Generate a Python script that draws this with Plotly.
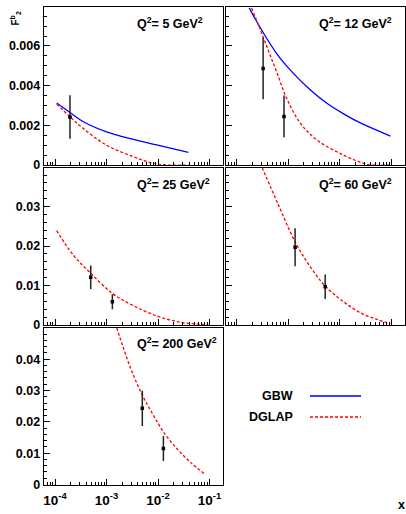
import plotly.graph_objects as go

W, H = 406, 514          # reference canvas (pixel coordinates used below)
FIG_H = 521              # figure height (compensates a small vertical squeeze seen in the render)

# ---------------- data ----------------
panel_titles = ["Q<sup>2</sup>= 5 GeV<sup>2</sup>", "Q<sup>2</sup>= 12 GeV<sup>2</sup>",
                "Q<sup>2</sup>= 25 GeV<sup>2</sup>", "Q<sup>2</sup>= 60 GeV<sup>2</sup>",
                "Q<sup>2</sup>= 200 GeV<sup>2</sup>"]
legend_labels = ["GBW", "DGLAP"]

# GBW curves
gbw_q5_x = [1.076e-4, 1.954e-4, 3.548e-4, 1.0e-3, 3.319e-3, 9.419e-3, 3.88e-2]
gbw_q5_y = [0.00313, 0.00265, 0.00218, 0.00167, 0.00129, 0.00101, 0.00064]
gbw_q12_x = [1.738e-4, 2.805e-4, 5.94e-4, 1.253e-3, 2.649e-3, 5.598e-3, 1.180e-2, 2.500e-2, 9.594e-2]
gbw_q12_y = [0.00792, 0.00695, 0.00562, 0.00462, 0.00379, 0.00311, 0.00258, 0.00212, 0.00146]

# DGLAP curves
dglap_q5_x = [1.076e-4, 1.954e-4, 3.548e-4, 1.0e-3, 3.319e-3, 8.11e-3, 1.476e-2, 3.88e-2]
dglap_q5_y = [0.00308, 0.00243, 0.00184, 0.00100, 0.00042, 0.00008, 0.0, 0.0]
dglap_q12_x = [1.932e-4, 2.805e-4, 4.074e-4, 5.94e-4, 9.31e-4, 1.690e-3, 3.573e-3, 1.180e-2, 2.897e-2, 3.917e-2, 9.594e-2]
dglap_q12_y = [0.00792, 0.00687, 0.00578, 0.00469, 0.00335, 0.00213, 0.00126, 0.00050, 0.00008, 0.0, 0.0]
dglap_q25_x = [1.076e-4, 2.270e-4, 4.932e-4, 1.297e-3, 3.319e-3, 9.419e-3, 2.673e-2, 6.546e-2, 9.484e-2]
dglap_q25_y = [0.0239, 0.0177, 0.0131, 0.0080, 0.0049, 0.0023, 0.0007, 0.00017, 0.0]
dglap_q60_x = [3.112e-4, 6.383e-4, 1.352e-3, 2.649e-3, 5.188e-3, 1.180e-2, 2.500e-2, 5.284e-2, 9.594e-2]
dglap_q60_y = [0.0399, 0.0305, 0.0211, 0.0148, 0.0099, 0.0059, 0.0031, 0.0014, 0.0004]
dglap_q200_x = [1.578e-3, 2.858e-3, 4.955e-3, 8.110e-3, 1.268e-2, 2.307e-2, 4.178e-2, 8.185e-2]
dglap_q200_y = [0.0500, 0.0376, 0.0285, 0.0221, 0.0168, 0.0115, 0.0072, 0.0032]

# measured points
pts_q5_x, pts_q5_y, pts_q5_e = [1.95e-4], [0.00242], [0.0011]
pts_q12_x, pts_q12_y, pts_q12_e = [3.24e-4, 8.24e-4], [0.00487, 0.00245], [0.00155, 0.00105]
pts_q25_x, pts_q25_y, pts_q25_e = [4.93e-4, 1.297e-3], [0.0121, 0.0059], [0.0030, 0.0019]
pts_q60_x, pts_q60_y, pts_q60_e = [1.352e-3, 5.19e-3], [0.0197, 0.0097], [0.0048, 0.0031]
pts_q200_x, pts_q200_y, pts_q200_e = [4.95e-3, 1.27e-2], [0.0243, 0.0115], [0.0056, 0.0040]

# axis ticks
x_tickvals = [1e-4, 1e-3, 1e-2, 1e-1]
x_ticktext = ["10<sup>-4</sup>", "10<sup>-3</sup>", "10<sup>-2</sup>", "10<sup>-1</sup>"]
x_minor = [k * 10.0 ** d for d in (-5, -4, -3, -2, -1) for k in range(2, 10)]
row_yticks = [[0, 0.002, 0.004, 0.006], [0, 0.01, 0.02, 0.03], [0, 0.01, 0.02, 0.03, 0.04]]
row_yticktext = [["0", "0.002", "0.004", "0.006"], ["0", "0.01", "0.02", "0.03"],
                 ["0", "0.01", "0.02", "0.03", "0.04"]]
row_yminor = [0.0005, 0.002, 0.002]
row_yrange = [[0, 0.00795], [0, 0.0398], [0, 0.0501]]

# ---------------- layout geometry (reference pixels) ----------------
col_px = [(43.7, 222.7), (225.5, 404.5)]
row_px = [(7.3, 165.0), (168.0, 325.0), (327.5, 484.5)]
xrange_log = [-4.22, -0.745]

def px2x(p):
    return p / W

def px2y(p):
    return 1 - p / H

BLUE = "#0000ff"
RED = "#ff0000"
FONT = "Liberation Sans"

fig = go.Figure()

curves = {
    0: [(gbw_q5_x, gbw_q5_y, "gbw"), (dglap_q5_x, dglap_q5_y, "dglap")],
    1: [(gbw_q12_x, gbw_q12_y, "gbw"), (dglap_q12_x, dglap_q12_y, "dglap")],
    2: [(dglap_q25_x, dglap_q25_y, "dglap")],
    3: [(dglap_q60_x, dglap_q60_y, "dglap")],
    4: [(dglap_q200_x, dglap_q200_y, "dglap")],
    5: [],
}
points = {
    0: (pts_q5_x, pts_q5_y, pts_q5_e),
    1: (pts_q12_x, pts_q12_y, pts_q12_e),
    2: (pts_q25_x, pts_q25_y, pts_q25_e),
    3: (pts_q60_x, pts_q60_y, pts_q60_e),
    4: (pts_q200_x, pts_q200_y, pts_q200_e),
}

annotations = []
shapes = []
layout_axes = {}

for i in range(6):
    r, c = divmod(i, 2)
    xs = "x" if i == 0 else f"x{i+1}"
    ys = "y" if i == 0 else f"y{i+1}"
    for (cx, cy, kind) in curves[i]:
        if kind == "gbw":
            line = dict(color=BLUE, width=1.3, shape="spline", smoothing=1.0)
        else:
            line = dict(color=RED, width=1.3, dash="3px,2px", shape="spline", smoothing=1.0)
        fig.add_trace(go.Scatter(x=cx, y=cy, mode="lines", line=line, xaxis=xs, yaxis=ys,
                                 showlegend=False, hoverinfo="skip"))
    if i in points:
        px_, py_, pe_ = points[i]
        fig.add_trace(go.Scatter(x=px_, y=py_, mode="markers", xaxis=xs, yaxis=ys,
                                 marker=dict(symbol="square", size=3.5, color="black"),
                                 error_y=dict(type="data", array=pe_, visible=True,
                                              color="#222222", thickness=1.5, width=0),
                                 showlegend=False, hoverinfo="skip"))

    xa = dict(type="log", range=xrange_log,
              domain=[px2x(col_px[c][0]), px2x(col_px[c][1])],
              anchor=ys, showgrid=False, zeroline=False,
              showline=True, linecolor="black", linewidth=1, mirror=True,
              ticks="inside", ticklen=6, tickwidth=1, tickcolor="black",
              tickmode="array", tickvals=x_tickvals, ticktext=x_ticktext,
              showticklabels=(r == 2), ticklabelstandoff=3,
              tickfont=dict(family=FONT, size=13.5, color="black", weight="bold"),
              minor=dict(ticks="inside", ticklen=3, tickwidth=1, tickcolor="black",
                         tickmode="array", tickvals=x_minor, showgrid=False))
    ya = dict(range=row_yrange[r],
              domain=[px2y(row_px[r][1]), px2y(row_px[r][0])],
              anchor=xs, showgrid=False, zeroline=False,
              showline=True, linecolor="black", linewidth=1, mirror=True,
              ticks="inside", ticklen=6, tickwidth=1, tickcolor="black",
              tickmode="array", tickvals=row_yticks[r], ticktext=row_yticktext[r],
              showticklabels=(c == 0),
              tickfont=dict(family=FONT, size=12.5, color="black", weight="bold"),
              minor=dict(ticks="inside", ticklen=3, tickwidth=1, tickcolor="black",
                         dtick=row_yminor[r], tick0=0, showgrid=False))
    layout_axes["xaxis" if i == 0 else f"xaxis{i+1}"] = xa
    layout_axes["yaxis" if i == 0 else f"yaxis{i+1}"] = ya

    if i < 5:
        annotations.append(dict(text=panel_titles[i], xref="paper", yref="paper",
                                x=px2x(col_px[c][0] + 91.5), y=px2y(row_px[r][0] + 15.5),
                                xanchor="left", yanchor="middle", showarrow=False,
                                font=dict(family=FONT, size=12.5, color="black", weight="bold")))

# legend (text left, line sample right, as in the reference)
leg_y = [396, 417]
leg_styles = [dict(color=BLUE, width=1.5), dict(color=RED, width=1.5, dash="3px,2px")]
for lbl, yy, st in zip(legend_labels, leg_y, leg_styles):
    annotations.append(dict(text=lbl, xref="paper", yref="paper", x=px2x(295), y=px2y(yy),
                            xanchor="right", yanchor="middle", showarrow=False,
                            font=dict(family=FONT, size=12.5, color="black", weight="bold")))
    shapes.append(dict(type="line", xref="paper", yref="paper", x0=px2x(310), x1=px2x(361),
                       y0=px2y(yy), y1=px2y(yy), line=st))

# axis titles
annotations.append(dict(text="x", xref="paper", yref="paper", x=px2x(406), y=px2y(513),
                        xanchor="right", yanchor="bottom", showarrow=False, borderpad=0,
                        font=dict(family=FONT, size=12.5, color="black", weight="bold")))
annotations.append(dict(text="F<sup>b</sup><sub>2</sub>", xref="paper", yref="paper",
                        x=px2x(15.5), y=px2y(19), xanchor="center", yanchor="middle",
                        textangle=-90, showarrow=False,
                        font=dict(family=FONT, size=10, color="black", weight="bold")))

fig.update_layout(width=W, height=FIG_H, margin=dict(l=0, r=0, t=0, b=0),
                  paper_bgcolor="white", plot_bgcolor="white",
                  annotations=annotations, shapes=shapes, **layout_axes)

fig.write_html("out.html")
